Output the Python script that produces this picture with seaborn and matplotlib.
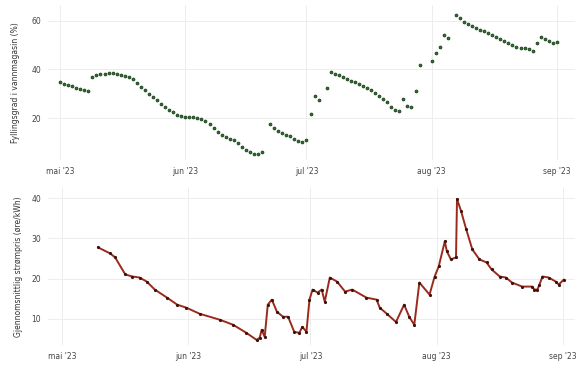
import matplotlib
matplotlib.use("Agg")
import matplotlib.pyplot as plt
import numpy as np
import pandas as pd
import seaborn as sns

# Daily reservoir filling level (%), 1 May - 1 Sep 2023 (None = no reading)
fill_start = "2023-05-01"
fill_end = "2023-09-01"
fill_values = [
    34.7, 34.2, 33.8, 33.3, 32.6, 32.1, 31.6, 31.2, 37.0, 37.6,
    38.0, 38.3, 38.5, 38.4, 38.1, 37.8, 37.4, 37.0, 36.2, 34.6,
    33.0, 31.4, 30.0, 28.8, 27.4, 26.0, 24.8, 23.6, 22.5, 21.4,
    20.9, 20.7, 20.6, 20.5, 20.3, 19.8, 18.8, 17.5, 16.0, 14.3,
    13.0, 12.3, 11.7, 11.1, 9.9, 8.2, 7.2, 6.3, 5.6, 5.3,
    6.4, None, 17.6, 16.2, 15.0, 14.0, 13.2, 12.6, 11.6, 10.8,
    10.2, 11.3, 21.6, 29.0, 27.6, None, 32.6, 38.8, 38.2, 37.6,
    36.8, 36.2, 35.4, 34.8, 34.1, 33.2, 32.6, 31.8, 30.4, 29.2,
    28.0, 26.6, 24.8, 23.4, 22.9, 27.8, 25.0, 24.5, 31.0, 42.0,
    None, None, 43.3, 46.9, 49.4, 54.3, 53.0, None, 62.4, 61.0,
    59.6, 58.8, 57.8, 57.0, 56.3, 55.6, 55.0, 54.2, 53.4, 52.6,
    51.6, 50.8, 50.0, 49.0, 48.8, 48.6, 48.4, 47.4, 51.0, 53.5,
    52.5, 51.6, 51.0, 51.4,
]

# Average electricity price (øre/kWh)
price_times = [
    "2023-05-09 18:00", "2023-05-12 18:00", "2023-05-14 00:00", "2023-05-16 12:00",
    "2023-05-18 06:00", "2023-05-20 00:00", "2023-05-21 18:00", "2023-05-23 18:00",
    "2023-05-26 18:00", "2023-05-29 06:00", "2023-05-31 12:00", "2023-06-03 18:00",
    "2023-06-08 18:00", "2023-06-12 00:00", "2023-06-15 06:00", "2023-06-17 18:00",
    "2023-06-18 12:00", "2023-06-19 00:00", "2023-06-19 18:00", "2023-06-20 12:00",
    "2023-06-21 12:00", "2023-06-22 18:00", "2023-06-24 06:00", "2023-06-25 12:00",
    "2023-06-27 00:00", "2023-06-28 06:00", "2023-06-29 00:00", "2023-06-30 00:00",
    "2023-06-30 18:00", "2023-07-01 12:00", "2023-07-02 18:00", "2023-07-03 18:00",
    "2023-07-04 12:00", "2023-07-05 18:00", "2023-07-07 12:00", "2023-07-09 12:00",
    "2023-07-11 06:00", "2023-07-14 18:00", "2023-07-17 06:00", "2023-07-18 00:00",
    "2023-07-19 18:00", "2023-07-22 00:00", "2023-07-24 00:00", "2023-07-25 06:00",
    "2023-07-26 12:00", "2023-07-27 18:00", "2023-07-30 06:00", "2023-07-31 12:00",
    "2023-08-01 12:00", "2023-08-03 00:00", "2023-08-03 12:00", "2023-08-04 12:00",
    "2023-08-05 18:00", "2023-08-06 00:00", "2023-08-07 00:00", "2023-08-08 06:00",
    "2023-08-09 18:00", "2023-08-11 12:00", "2023-08-13 06:00", "2023-08-14 12:00",
    "2023-08-16 12:00", "2023-08-18 00:00", "2023-08-19 12:00", "2023-08-22 00:00",
    "2023-08-24 12:00", "2023-08-25 00:00", "2023-08-25 18:00", "2023-08-26 06:00",
    "2023-08-27 00:00", "2023-08-28 12:00", "2023-08-30 06:00", "2023-08-31 00:00",
    "2023-09-01 06:00",
]
price_values = [
    27.75, 26.25, 25.25, 21.0, 20.5, 20.25, 19.25, 17.25,
    15.25, 13.5, 12.75, 11.25, 9.75, 8.5, 6.5, 4.75,
    5.25, 7.25, 5.5, 13.5, 14.75, 11.75, 10.5, 10.5,
    6.75, 6.5, 8.0, 6.75, 14.75, 17.25, 16.5, 17.25,
    14.25, 20.25, 19.25, 16.75, 17.25, 15.25, 14.75, 12.75,
    11.25, 9.2, 13.5, 10.5, 8.5, 19.0, 16.0, 20.5,
    23.0, 29.25, 26.75, 24.75, 25.25, 39.75, 36.75, 32.25,
    27.25, 24.75, 24.0, 22.25, 20.5, 20.25, 19.0, 18.0,
    18.0, 17.25, 17.25, 18.5, 20.5, 20.25, 19.25, 18.5,
    19.75,
]

month_ticks = ["2023-05-01", "2023-06-01", "2023-07-01", "2023-08-01", "2023-09-01"]
month_labels = ["mai '23", "jun '23", "jul '23", "aug '23", "sep '23"]

fill_df = pd.DataFrame({
    "dato": pd.date_range(fill_start, fill_end, freq="D"),
    "fylling": pd.Series(fill_values, dtype="float"),
})
price_df = pd.DataFrame({
    "tid": pd.to_datetime(price_times),
    "pris": price_values,
})

sns.set_theme(style="whitegrid")
plt.rcParams["font.family"] = ["DejaVu Sans"]

fig = plt.figure(figsize=(5.85, 3.65), dpi=100)
ax1 = fig.add_axes([0.082, 0.562, 0.901, 0.425])
ax2 = fig.add_axes([0.082, 0.055, 0.901, 0.430])

sns.scatterplot(data=fill_df, x="dato", y="fylling", ax=ax1,
                color="#2f6e2f", edgecolor="#173817", linewidth=0.5,
                s=4.5, marker="o")
sns.lineplot(data=price_df, x="tid", y="pris", ax=ax2,
             color="#9a2a1c", linewidth=1.4, marker="o", markersize=1.5,
             markeredgecolor="#3d110c", markerfacecolor="#3d110c")

tick_dates = pd.to_datetime(month_ticks)
for ax in (ax1, ax2):
    ax.set_xticks(tick_dates)
    ax.set_xticklabels(month_labels)
    ax.set_xlabel("")
    ax.tick_params(axis="both", labelsize=5.5, colors="#444444",
                   length=0, pad=5)
    ax.grid(True, color="#ededed", linewidth=0.7)
    for s in ax.spines.values():
        s.set_visible(False)

ax1.set_xlim(pd.Timestamp("2023-04-28"), pd.Timestamp("2023-09-05 12:00"))
ax1.set_ylim(3, 66.5)
ax1.set_yticks([20, 40, 60])
ax1.set_ylabel("Fyllingsgrad i vannmagasin (%)", fontsize=5.5,
               color="#333333", labelpad=8)

ax2.set_xlim(pd.Timestamp("2023-04-27 12:00"), pd.Timestamp("2023-09-04"))
ax2.set_ylim(3.5, 42.5)
ax2.set_yticks([10, 20, 30, 40])
ax2.set_ylabel("Gjennomsnittlig strømpris (øre/kWh)", fontsize=5.5,
               color="#333333", labelpad=6)

fig.savefig("out.png", dpi=100)
